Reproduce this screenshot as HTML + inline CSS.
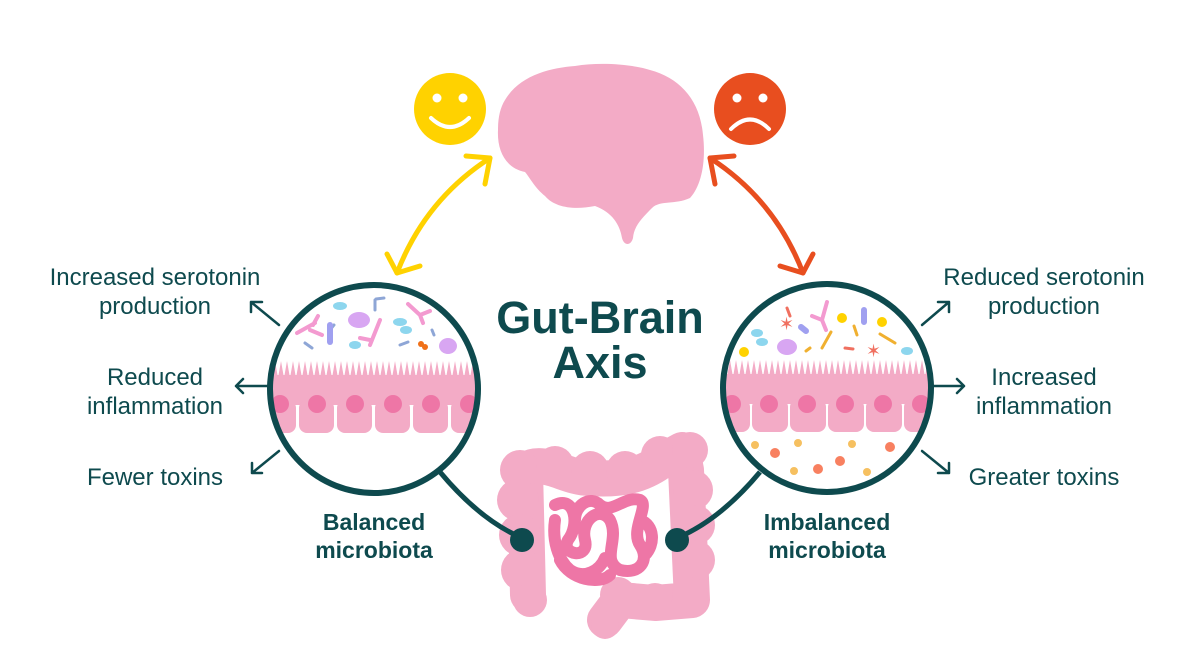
<!DOCTYPE html>
<html><head><meta charset="utf-8"><style>
html,body{margin:0;padding:0;background:#fff;}
svg{display:block;}
text{font-family:"Liberation Sans",sans-serif;fill:#0e4a4e;}
</style></head><body>
<svg width="1200" height="672" viewBox="0 0 1200 672" xmlns="http://www.w3.org/2000/svg">
<defs>
<clipPath id="cl"><circle cx="374" cy="389" r="104"/></clipPath>
<clipPath id="cr"><circle cx="827" cy="388" r="104"/></clipPath>
</defs>

<!-- brain -->
<path d="M505,100 C520,75 550,68 575,66 C600,62 630,64 650,70 C680,78 700,100 703,135 C706,160 702,185 690,198 C675,205 660,200 652,208 C642,218 634,226 633,238 C631,246 624,246 622,238 C620,225 612,212 595,206 C575,210 555,208 545,196 C535,188 530,178 525,172 C505,168 497,150 498,130 C498,118 500,108 505,100 Z" fill="#f3abc6"/>

<!-- smileys -->
<circle cx="450" cy="109" r="36" fill="#ffd200"/>
<circle cx="437" cy="98" r="4.5" fill="#fff"/><circle cx="463" cy="98" r="4.5" fill="#fff"/>
<path d="M431,118 Q450,136 469,118" fill="none" stroke="#fff" stroke-width="4" stroke-linecap="round"/>
<circle cx="750" cy="109" r="36" fill="#e84e1f"/>
<circle cx="737" cy="98" r="4.5" fill="#fff"/><circle cx="763" cy="98" r="4.5" fill="#fff"/>
<path d="M731,129 Q750,110 769,129" fill="none" stroke="#fff" stroke-width="4" stroke-linecap="round"/>

<!-- arrows -->
<path d="M490,158 Q425,200 397,273" fill="none" stroke="#ffd200" stroke-width="5" stroke-linecap="round"/>
<path d="M466,156 L490,158 L485,184 M387,254 L397,273 L420,266" fill="none" stroke="#ffd200" stroke-width="5" stroke-linecap="round" stroke-linejoin="round"/>
<path d="M710,158 Q775,200 803,273" fill="none" stroke="#e84e1f" stroke-width="5" stroke-linecap="round"/>
<path d="M734,156 L710,158 L715,184 M813,254 L803,273 L780,266" fill="none" stroke="#e84e1f" stroke-width="5" stroke-linecap="round" stroke-linejoin="round"/>

<!-- intestine -->
<g fill="none" stroke="#f3abc6" stroke-width="36" stroke-linecap="round" stroke-linejoin="round">
<path d="M528,595 L525,470 C545,458 565,478 590,478 C620,480 640,476 660,462 L682,450 L686,470 L692,600 L655,603 L620,600 L605,620"/>
</g>
<g fill="#f3abc6">
<circle cx="520" cy="470" r="20"/><circle cx="518" cy="500" r="21"/><circle cx="520" cy="535" r="21"/><circle cx="522" cy="570" r="21"/><circle cx="530" cy="600" r="17"/>
<circle cx="555" cy="465" r="19"/><circle cx="590" cy="470" r="19"/><circle cx="625" cy="470" r="19"/><circle cx="660" cy="455" r="19"/><circle cx="690" cy="450" r="18"/>
<circle cx="693" cy="490" r="20"/><circle cx="695" cy="525" r="20"/><circle cx="695" cy="560" r="20"/><circle cx="690" cy="595" r="18"/>
<circle cx="655" cy="600" r="17"/><circle cx="618" cy="595" r="18"/><circle cx="605" cy="625" r="14"/>
</g>
<g fill="none" stroke="#ee76a6" stroke-width="12" stroke-linecap="round" stroke-linejoin="round">
<path d="M555,505 C575,495 580,525 568,540 C560,555 590,560 585,540 C580,520 600,505 610,520 C620,540 600,560 620,570 C640,575 650,560 640,545 C630,530 650,505 640,500 C625,495 612,515 600,505 C590,495 575,505 575,520 M560,560 C570,580 600,585 610,575 M640,520 C655,525 655,545 645,555 M555,520 C552,540 558,560 570,570 C585,580 600,570 605,558"/>
</g>

<!-- connectors -->
<path d="M440,472 Q480,520 522,538" fill="none" stroke="#0e4a4e" stroke-width="5"/>
<path d="M760,472 Q720,520 677,538" fill="none" stroke="#0e4a4e" stroke-width="5"/>
<circle cx="522" cy="540" r="12" fill="#0e4a4e"/>
<circle cx="677" cy="540" r="12" fill="#0e4a4e"/>

<!-- left circle -->
<circle cx="374" cy="389" r="104" fill="#fff"/>
<g clip-path="url(#cl)">
<g fill="#f3abc6">
<rect x="260" y="375" width="240" height="30"/>
<rect x="260" y="400" width="36" height="33" rx="8"/><rect x="299" y="400" width="35" height="33" rx="8"/><rect x="337" y="400" width="35" height="33" rx="8"/><rect x="375" y="400" width="35" height="33" rx="8"/><rect x="413" y="400" width="35" height="33" rx="8"/><rect x="451" y="400" width="40" height="33" rx="8"/>
</g>
<path d="M260,378 l3,-17 l3,17 l3,-17 l3,17 l3,-17 l3,17 l3,-17 l3,17 l3,-17 l3,17 l3,-17 l3,17 l3,-17 l3,17 l3,-17 l3,17 l3,-17 l3,17 l3,-17 l3,17 l3,-17 l3,17 l3,-17 l3,17 l3,-17 l3,17 l3,-17 l3,17 l3,-17 l3,17 l3,-17 l3,17 l3,-17 l3,17 l3,-17 l3,17 l3,-17 l3,17 l3,-17 l3,17 l3,-17 l3,17 l3,-17 l3,17 l3,-17 l3,17 l3,-17 l3,17 l3,-17 l3,17 l3,-17 l3,17 l3,-17 l3,17 l3,-17 l3,17 l3,-17 l3,17 l3,-17 l3,17 l3,-17 l3,17 l3,-17 l3,17 l3,-17 l3,17 l3,-17 l3,17 l3,-17 l3,17 l3,-17 l3,17 l3,-17 l3,17 l3,-17 l3,17 l3,-17 l3,17 l3,-17 l3,17 l3,-17 l3,17 l3,-17 l3,17 l3,-17 l3,17 Z" fill="#f3abc6"/>
<g fill="#ee76a6"><circle cx="280" cy="404" r="9"/><circle cx="317" cy="404" r="9"/><circle cx="355" cy="404" r="9"/><circle cx="393" cy="404" r="9"/><circle cx="431" cy="404" r="9"/><circle cx="469" cy="404" r="9"/></g>
<g>
<ellipse cx="340" cy="306" rx="7" ry="4" fill="#8dd6ee"/><ellipse cx="400" cy="322" rx="7" ry="4" fill="#8dd6ee"/><ellipse cx="406" cy="330" rx="6" ry="4" fill="#8dd6ee"/><ellipse cx="355" cy="345" rx="6" ry="4" fill="#8dd6ee"/>
<ellipse cx="359" cy="320" rx="11" ry="8" fill="#d8a6f2"/><ellipse cx="448" cy="346" rx="9" ry="8" fill="#d8a6f2"/>
<path d="M297,333 L315,323 M310,330 L322,335 M313,325 L318,316 M380,320 L370,345 M370,340 L360,338 M408,304 L420,315 L430,311 M420,315 L423,323" stroke="#f39ad0" stroke-width="4" stroke-linecap="round" fill="none"/>
<path d="M375,300 L375,310 M376,299 L384,298 M305,343 L312,348 M330,330 L334,325 M400,345 L408,342 M432,330 L434,335" stroke="#8ea6d6" stroke-width="3" stroke-linecap="round" fill="none"/>
<path d="M330,325 L330,342" stroke="#a0a0f0" stroke-width="6" stroke-linecap="round"/>
<circle cx="421" cy="344" r="3" fill="#f07018"/><circle cx="425" cy="347" r="3" fill="#f07018"/>
</g>
</g>
<circle cx="374" cy="389" r="104" fill="none" stroke="#0e4a4e" stroke-width="6"/>

<!-- right circle -->
<circle cx="827" cy="388" r="104" fill="#fff"/>
<g clip-path="url(#cr)">
<g fill="#f3abc6">
<rect x="715" y="374" width="240" height="30"/>
<rect x="715" y="399" width="35" height="33" rx="8"/><rect x="752" y="399" width="36" height="33" rx="8"/><rect x="790" y="399" width="36" height="33" rx="8"/><rect x="828" y="399" width="36" height="33" rx="8"/><rect x="866" y="399" width="36" height="33" rx="8"/><rect x="904" y="399" width="40" height="33" rx="8"/>
</g>
<path d="M715,377 l3,-17 l3,17 l3,-17 l3,17 l3,-17 l3,17 l3,-17 l3,17 l3,-17 l3,17 l3,-17 l3,17 l3,-17 l3,17 l3,-17 l3,17 l3,-17 l3,17 l3,-17 l3,17 l3,-17 l3,17 l3,-17 l3,17 l3,-17 l3,17 l3,-17 l3,17 l3,-17 l3,17 l3,-17 l3,17 l3,-17 l3,17 l3,-17 l3,17 l3,-17 l3,17 l3,-17 l3,17 l3,-17 l3,17 l3,-17 l3,17 l3,-17 l3,17 l3,-17 l3,17 l3,-17 l3,17 l3,-17 l3,17 l3,-17 l3,17 l3,-17 l3,17 l3,-17 l3,17 l3,-17 l3,17 l3,-17 l3,17 l3,-17 l3,17 l3,-17 l3,17 l3,-17 l3,17 l3,-17 l3,17 l3,-17 l3,17 l3,-17 l3,17 l3,-17 l3,17 l3,-17 l3,17 l3,-17 l3,17 l3,-17 l3,17 l3,-17 l3,17 l3,-17 l3,17 l3,-17 l3,17 l3,-17 l3,17 Z" fill="#f3abc6"/>
<g fill="#ee76a6"><circle cx="732" cy="404" r="9"/><circle cx="769" cy="404" r="9"/><circle cx="807" cy="404" r="9"/><circle cx="845" cy="404" r="9"/><circle cx="883" cy="404" r="9"/><circle cx="921" cy="404" r="9"/></g>
<g>
<ellipse cx="757" cy="333" rx="6" ry="4" fill="#8dd6ee"/><ellipse cx="762" cy="342" rx="6" ry="4" fill="#8dd6ee"/><ellipse cx="907" cy="351" rx="6" ry="4" fill="#8dd6ee"/>
<ellipse cx="787" cy="347" rx="10" ry="8" fill="#d8a6f2"/>
<circle cx="744" cy="352" r="5" fill="#ffd200"/><circle cx="842" cy="318" r="5" fill="#ffd200"/><circle cx="882" cy="322" r="5" fill="#ffd200"/>
<path d="M812,316 L822,320 L827,302 M822,320 L826,330" stroke="#f39ad0" stroke-width="4" stroke-linecap="round" fill="none"/>
<path d="M831,332 L822,348 M880,334 L895,343 M854,326 L857,335 M806,351 L810,348" stroke="#f0b030" stroke-width="3" stroke-linecap="round" fill="none"/>
<path d="M787,308 L790,316 M845,348 L853,349" stroke="#f07060" stroke-width="3" stroke-linecap="round"/>
<path d="M864,310 L864,322 M801,327 L806,331" stroke="#a0a0f0" stroke-width="6" stroke-linecap="round"/>
<text x="779" y="330" font-size="18" style="fill:#f07060">✶</text>
<text x="866" y="357" font-size="18" style="fill:#f07060">✶</text>
<g fill="#f6c060"><circle cx="755" cy="445" r="4"/><circle cx="798" cy="443" r="4"/><circle cx="852" cy="444" r="4"/><circle cx="794" cy="471" r="4"/><circle cx="867" cy="472" r="4"/></g>
<g fill="#f88060"><circle cx="775" cy="453" r="5"/><circle cx="818" cy="469" r="5"/><circle cx="840" cy="461" r="5"/><circle cx="890" cy="447" r="5"/></g>
</g>
</g>
<circle cx="827" cy="388" r="104" fill="none" stroke="#0e4a4e" stroke-width="6"/>

<!-- side arrows -->
<g fill="none" stroke="#0e4a4e" stroke-width="2.5" stroke-linecap="round" stroke-linejoin="round">
<path d="M279,325 L251,302 M251,312 L251,302 L262,302"/>
<path d="M270,386 L236,386 M243,379 L236,386 L243,393"/>
<path d="M279,451 L252,473 M252,463 L252,473 L262,473"/>
<path d="M922,325 L949,302 M949,312 L949,302 L938,302"/>
<path d="M930,386 L964,386 M957,379 L964,386 L957,393"/>
<path d="M922,451 L949,473 M949,463 L949,473 L938,473"/>
</g>

<!-- text -->
<g font-size="24" text-anchor="middle">
<text x="155" y="285">Increased serotonin</text>
<text x="155" y="314">production</text>
<text x="155" y="385">Reduced</text>
<text x="155" y="414">inflammation</text>
<text x="155" y="485">Fewer toxins</text>
<text x="1044" y="285">Reduced serotonin</text>
<text x="1044" y="314">production</text>
<text x="1044" y="385">Increased</text>
<text x="1044" y="414">inflammation</text>
<text x="1044" y="485">Greater toxins</text>
</g>
<g font-size="23" font-weight="bold" text-anchor="middle">
<text x="374" y="530">Balanced</text>
<text x="374" y="558">microbiota</text>
<text x="827" y="530">Imbalanced</text>
<text x="827" y="558">microbiota</text>
</g>
<g font-size="45" font-weight="bold" text-anchor="middle">
<text x="600" y="333">Gut-Brain</text>
<text x="600" y="378">Axis</text>
</g>
</svg>
</body></html>
